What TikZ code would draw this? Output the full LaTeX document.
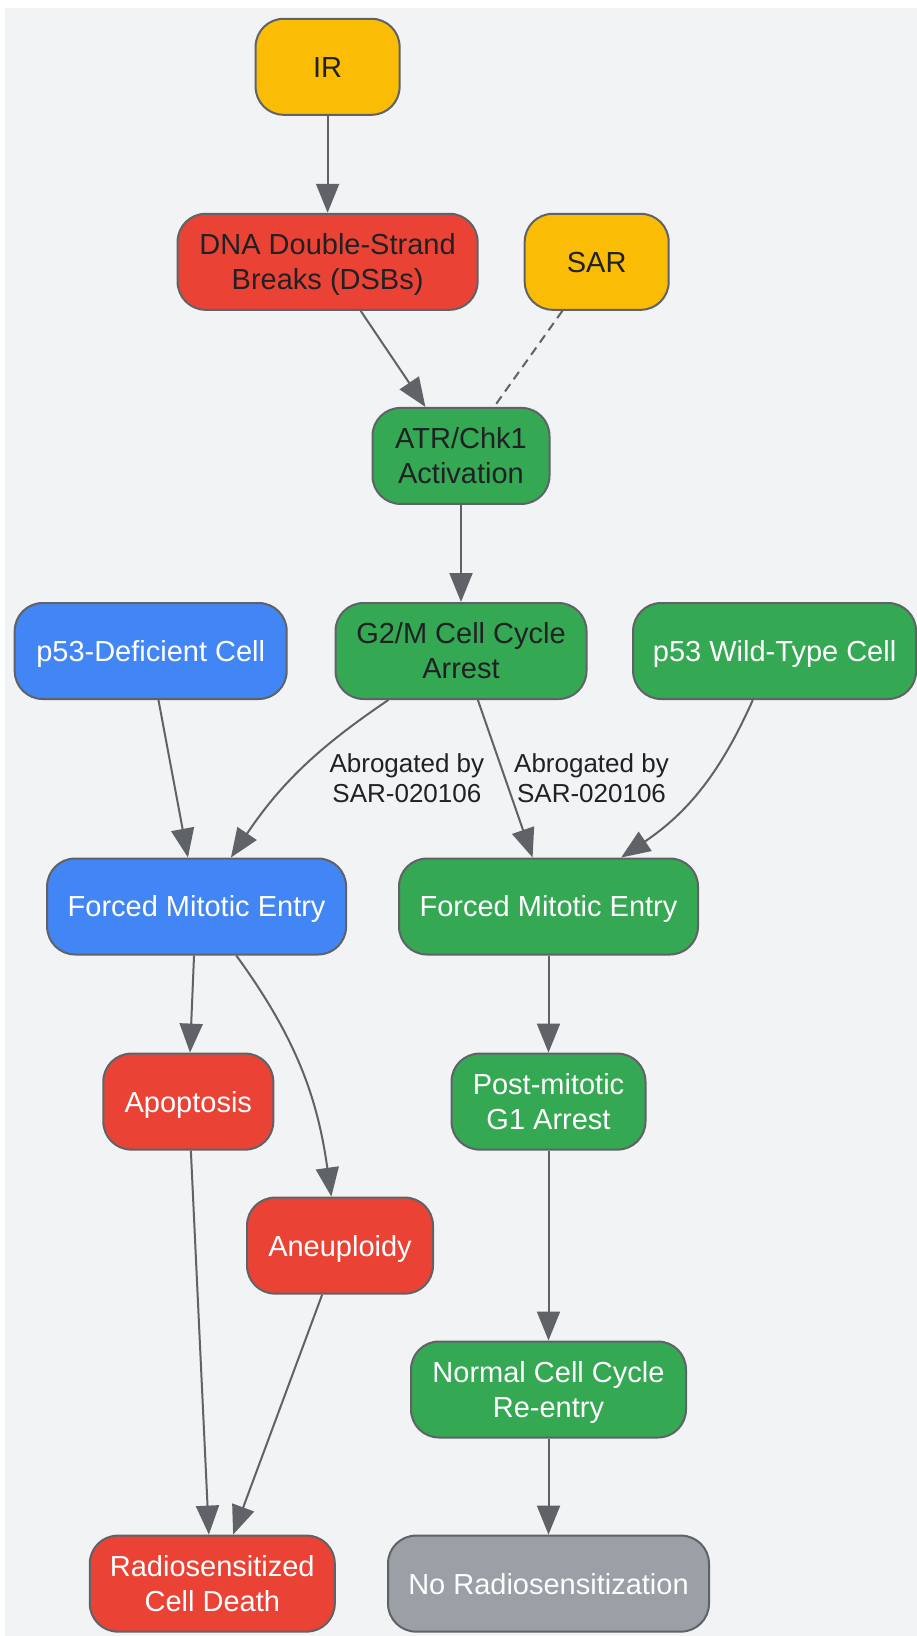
\documentclass[tikz,border=0pt]{standalone}
\usepackage{fontspec}
\setmainfont{Liberation Sans}
\usetikzlibrary{arrows.meta}
\definecolor{bgray}{HTML}{F1F3F4}
\definecolor{edgegray}{HTML}{5F6368}
\definecolor{irYellow}{HTML}{FBBC05}
\definecolor{dsbRed}{HTML}{EA4335}
\definecolor{cellGreen}{HTML}{34A853}
\definecolor{cellBlue}{HTML}{4285F4}
\definecolor{noGray}{HTML}{9AA0A6}
\definecolor{inkdark}{HTML}{202124}
\tikzset{box/.style={draw=edgegray,line width=2pt,rounded corners=28pt,minimum height=96pt,
        align=center,font=\fontsize{29}{35}\selectfont,text height=20.8pt,text depth=0pt},
    twoline/.style={text height=55.8pt,text depth=0pt},
    link/.style={draw=edgegray,line width=2pt,-{Triangle[length=29pt,width=23pt]}},
    abrog/.style={font=\fontsize{26}{30}\selectfont,align=center,text=inkdark}
}

\begin{document}
\begin{tikzpicture}[x=1pt,y=1pt]
    \useasboundingbox (0,0) rectangle (917,-1636);
    % Background
    \fill[bgray] (5,-8) rectangle (917,-1636);

    % Damage and checkpoint
    \node[box,fill=irYellow,text=inkdark,minimum width=144pt] (ir) at (327.6,-66.8) {IR};
    \node[box,twoline,fill=dsbRed,text=inkdark,minimum width=300pt] (dsb) at (327.6,-261.8) {DNA Double-Strand\\Breaks (DSBs)};
    \node[box,fill=irYellow,text=inkdark,minimum width=144pt] (sar) at (596.7,-261.8) {SAR};
    \node[box,twoline,fill=cellGreen,text=inkdark,minimum width=177pt] (atr) at (461,-455.9) {ATR/Chk1\\Activation};
    \node[box,twoline,fill=cellGreen,text=inkdark,minimum width=251pt] (arrest) at (461,-651) {G2/M Cell Cycle\\Arrest};

    % Cell types
    \node[box,fill=cellBlue,text=white,minimum width=272pt] (pdef) at (150.7,-651) {p53-Deficient Cell};
    \node[box,fill=cellGreen,text=white,minimum width=283pt] (pwt) at (774.6,-651) {p53 Wild-Type Cell};

    % p53-deficient branch
    \node[box,fill=cellBlue,text=white,minimum width=299pt] (fmeA) at (196.6,-906.5) {Forced Mitotic Entry};
    \node[box,fill=dsbRed,text=white,minimum width=170pt] (apop) at (188.3,-1101.6) {Apoptosis};
    \node[box,fill=dsbRed,text=white,minimum width=186pt] (aneu) at (340,-1245.6) {Aneuploidy};
    \node[box,twoline,fill=dsbRed,text=white,minimum width=245pt] (death) at (212.3,-1583.6) {Radiosensitized\\Cell Death};

    % p53 wild-type branch
    \node[box,fill=cellGreen,text=white,minimum width=299pt] (fmeB) at (548.5,-906.5) {Forced Mitotic Entry};
    \node[box,twoline,fill=cellGreen,text=white,minimum width=194pt] (g1arrest) at (548.5,-1101.6) {Post-mitotic\\G1 Arrest};
    \node[box,twoline,fill=cellGreen,text=white,minimum width=275pt] (reentry) at (548.5,-1389.5) {Normal Cell Cycle\\Re-entry};
    \node[box,fill=noGray,text=white,minimum width=321pt] (noradio) at (548.5,-1583.6) {No Radiosensitization};

    % Edges
    \draw[link] (ir) -- (dsb);
    \draw[link] (dsb.-56) -- (atr.126);
    \draw[draw=edgegray,line width=2pt,dash pattern=on 9pt off 6pt] (sar.235) -- (atr.56);
    \draw[link] (atr) -- (arrest);
    \draw[link] (arrest.214) to[out=214,in=56] (fmeA.55);
    \draw[link] (arrest.-71.5) -- (fmeB.108);
    \draw[link] (pwt.246) to[out=246,in=34] (fmeB.34);
    \draw[link] (pdef.-81) -- (fmeA.100);
    \draw[link] (fmeA.-93) -- (apop.88);
    \draw[link] (fmeA.-51) to[out=-54,in=98] (aneu.100);
    \draw[link] (apop.-87) -- (death.94);
    \draw[link] (aneu.250) -- (death.67.5);
    \draw[link] (fmeB) -- (g1arrest);
    \draw[link] (g1arrest) -- (reentry);
    \draw[link] (reentry) -- (noradio);

    % Edge labels
    \node[abrog] (abrogA) at (406.9,-778.2) {Abrogated by\\SAR-020106};
    \node[abrog] (abrogB) at (591.5,-778.2) {Abrogated by\\SAR-020106};
\end{tikzpicture}
\end{document}
